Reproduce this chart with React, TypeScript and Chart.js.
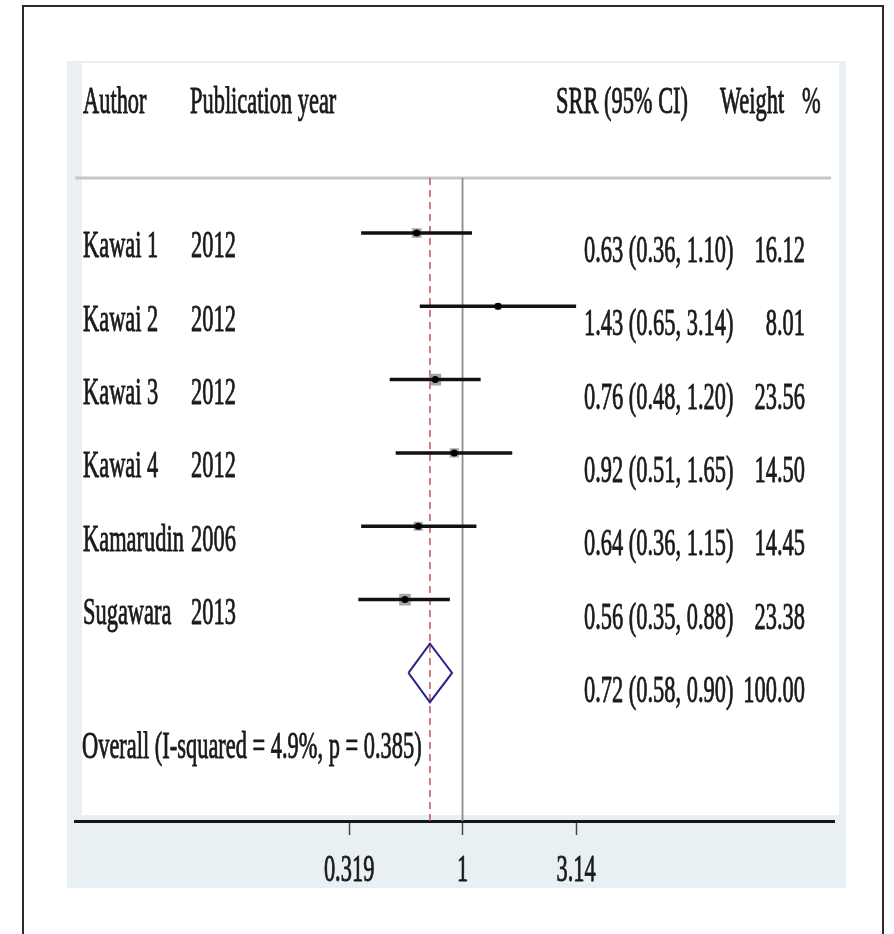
import React, { useEffect, useRef } from "react";
import { Chart, registerables } from "chart.js";

Chart.register(...registerables);

// ---------------- data ----------------
const AUTHORS = ["Kawai 1", "Kawai 2", "Kawai 3", "Kawai 4", "Kamarudin", "Sugawara"];
const YEARS = ["2012", "2012", "2012", "2012", "2006", "2013"];
const SRR = [0.63, 1.43, 0.76, 0.92, 0.64, 0.56];
const CI_LOW = [0.36, 0.65, 0.48, 0.51, 0.36, 0.35];
const CI_HIGH = [1.1, 3.14, 1.2, 1.65, 1.15, 0.88];
const WEIGHTS = [16.12, 8.01, 23.56, 14.5, 14.45, 23.38];

const OVERALL_SRR = 0.72;
const OVERALL_LOW = 0.58;
const OVERALL_HIGH = 0.9;
const OVERALL_WEIGHT = 100.0;
const OVERALL_LABEL = "Overall (I-squared = 4.9%, p = 0.385)";

const HEADERS = ["Author", "Publication year", "SRR (95% CI)", "Weight", "%"];

const X_TICKS = [0.319, 1, 3.14];
const X_TICK_LABELS = ["0.319", "1", "3.14"];

// ---------------- layout / style constants ----------------
const X_MIN = 0.0202;
const X_MAX = 42.2;
const Y_MIN = -0.75;
const Y_MAX = 8.02;
const OVERALL_ROW = AUTHORS.length; // diamond row
const OVERALL_LABEL_ROW = 6.83;
const DIAMOND_HALF = 0.4;

const CANVAS_W = 779;
const CANVAS_H = 827;

const FONT = '38px "Liberation Serif", "Times New Roman", serif';
const SQUEEZE = 0.59;
const TEXT_COLOR = "#1a1a1a";

const COL = {
  author: 16,
  year: 124,
  srr: 517,
  weightRight: 738,
  hdrSrr: 489,
  hdrWeight: 653,
  hdrPct: 735,
};

function drawText(ctx: CanvasRenderingContext2D, text: string, x: number, y: number, align: CanvasTextAlign) {
  ctx.save();
  ctx.translate(x, y);
  ctx.scale(SQUEEZE, 1);
  ctx.font = FONT;
  ctx.fillStyle = TEXT_COLOR;
  ctx.strokeStyle = TEXT_COLOR;
  ctx.lineWidth = 0.9;
  ctx.lineJoin = "round";
  ctx.textAlign = align;
  ctx.textBaseline = "alphabetic";
  ctx.fillText(text, 0, 0);
  ctx.strokeText(text, 0, 0);
  ctx.restore();
}

const fmtCI = (e: number, l: number, h: number) => `${e.toFixed(2)} (${l.toFixed(2)}, ${h.toFixed(2)})`;

const forestTextPlugin = {
  id: "forestText",
  afterDraw(chart: any) {
    const { ctx, chartArea, scales } = chart;
    const x = scales.x;
    const y = scales.y;
    // header
    const hy = chartArea.top - 65;
    drawText(ctx, HEADERS[0], COL.author, hy, "left");
    drawText(ctx, HEADERS[1], COL.year - 1, hy, "left");
    drawText(ctx, HEADERS[2], COL.hdrSrr, hy, "left");
    drawText(ctx, HEADERS[3], COL.hdrWeight, hy, "left");
    drawText(ctx, HEADERS[4], COL.hdrPct, hy, "left");
    // study rows
    for (let i = 0; i < AUTHORS.length; i++) {
      const py = y.getPixelForValue(i);
      drawText(ctx, AUTHORS[i], COL.author, py + 24.5, "left");
      drawText(ctx, YEARS[i], COL.year, py + 24.5, "left");
      drawText(ctx, fmtCI(SRR[i], CI_LOW[i], CI_HIGH[i]), COL.srr, py + 29, "left");
      drawText(ctx, WEIGHTS[i].toFixed(2), COL.weightRight, py + 29, "right");
    }
    // overall row
    const oy = y.getPixelForValue(OVERALL_ROW);
    drawText(ctx, fmtCI(OVERALL_SRR, OVERALL_LOW, OVERALL_HIGH), COL.srr, oy + 29, "left");
    drawText(ctx, OVERALL_WEIGHT.toFixed(2), COL.weightRight, oy + 29, "right");
    drawText(ctx, OVERALL_LABEL, COL.author - 1, y.getPixelForValue(OVERALL_LABEL_ROW) + 24.5, "left");
    // x tick labels
    x.ticks.forEach((t: any, idx: number) => {
      const px = x.getPixelForValue(t.value);
      drawText(ctx, X_TICK_LABELS[idx] ?? String(t.value), px, chartArea.bottom + 60, "center");
    });
  },
};

export default function App() {
  const ref = useRef<HTMLCanvasElement | null>(null);

  useEffect(() => {
    if (!ref.current) return;

    const ciSets = AUTHORS.map((a, i) => ({
      label: `${a} CI`,
      data: [
        { x: CI_LOW[i], y: i },
        { x: CI_HIGH[i], y: i },
      ],
      showLine: true,
      borderColor: "#111",
      borderWidth: 3.5,
      pointRadius: 0,
      order: 1,
    }));

    const chart = new Chart(ref.current, {
      type: "scatter",
      data: {
        datasets: [
          {
            label: "estimates",
            data: SRR.map((v, i) => ({ x: v, y: i })),
            pointStyle: "circle",
            pointRadius: 3.5,
            backgroundColor: "#000",
            borderColor: "#000",
            borderWidth: 0,
            order: 0,
          } as any,
          ...ciSets,
          {
            label: "weights",
            data: SRR.map((v, i) => ({ x: v, y: i })),
            pointStyle: "rect",
            pointRadius: WEIGHTS.map((w) => (Math.sqrt(w) * 2.4) / Math.SQRT2),
            backgroundColor: "rgba(150,150,150,0.85)",
            borderWidth: 0,
            order: 2,
          },
          {
            label: "overall",
            data: [
              { x: OVERALL_LOW, y: OVERALL_ROW },
              { x: OVERALL_SRR, y: OVERALL_ROW - DIAMOND_HALF },
              { x: OVERALL_HIGH, y: OVERALL_ROW },
              { x: OVERALL_SRR, y: OVERALL_ROW + DIAMOND_HALF },
              { x: OVERALL_LOW, y: OVERALL_ROW },
            ],
            showLine: true,
            borderColor: "#25258c",
            borderWidth: 2,
            pointRadius: 0,
            fill: false,
            order: 2,
          },
          {
            label: "overall line",
            data: [
              { x: OVERALL_SRR, y: Y_MIN },
              { x: OVERALL_SRR, y: Y_MAX },
            ],
            showLine: true,
            borderColor: "#c2505a",
            borderWidth: 1.5,
            borderDash: [7, 5],
            pointRadius: 0,
            order: 3,
          },
          {
            label: "null line",
            data: [
              { x: 1, y: Y_MIN },
              { x: 1, y: Y_MAX },
            ],
            showLine: true,
            borderColor: "#8c8c8c",
            borderWidth: 1.8,
            pointRadius: 0,
            order: 4,
          },
          {
            label: "header rule",
            data: [
              { x: X_MIN, y: Y_MIN },
              { x: 41, y: Y_MIN },
            ],
            showLine: true,
            borderColor: "#c6c6c6",
            borderWidth: 3,
            pointRadius: 0,
            clip: false,
            order: 5,
          } as any,
        ],
      },
      options: {
        animation: false,
        responsive: false,
        devicePixelRatio: 1,
        layout: { padding: { left: 8, right: 12, top: 117, bottom: 0 } },
        plugins: { legend: { display: false }, tooltip: { enabled: false } },
        events: [],
        scales: {
          x: {
            type: "logarithmic",
            min: X_MIN,
            max: X_MAX,
            afterBuildTicks: (scale: any) => {
              scale.ticks = X_TICKS.map((v) => ({ value: v }));
            },
            afterFit: (scale: any) => {
              scale.height = 67;
            },
            ticks: { display: false, autoSkip: false },
            grid: {
              drawOnChartArea: false,
              drawTicks: true,
              tickLength: 14,
              tickWidth: 1.5,
              tickColor: "#444",
            },
            border: { display: true, color: "#151515", width: 3 },
          },
          y: {
            type: "linear",
            display: false,
            reverse: true,
            min: Y_MIN,
            max: Y_MAX,
          },
        },
      },
      plugins: [forestTextPlugin],
    } as any);

    return () => chart.destroy();
  }, []);

  return (
    <div
      style={{
        position: "absolute",
        left: 0,
        top: 0,
        width: 894,
        height: 934,
        overflow: "hidden",
        background: "#fff",
      }}
    >
      <div
        style={{
          position: "absolute",
          left: 22,
          top: 5,
          width: 862,
          height: 1000,
          border: "2px solid #2a2a2a",
          boxSizing: "border-box",
        }}
      />
      <div
        style={{
          position: "absolute",
          left: 67,
          top: 61,
          width: CANVAS_W,
          height: CANVAS_H,
          background: "#e8f0f3",
        }}
      >
        <div
          style={{
            position: "absolute",
            left: 15,
            top: 2,
            width: 757,
            height: 752,
            background: "#fff",
          }}
        />
        <canvas
          ref={ref}
          width={CANVAS_W}
          height={CANVAS_H}
          style={{ position: "absolute", left: 0, top: 0, width: CANVAS_W, height: CANVAS_H }}
        />
      </div>
    </div>
  );
}
